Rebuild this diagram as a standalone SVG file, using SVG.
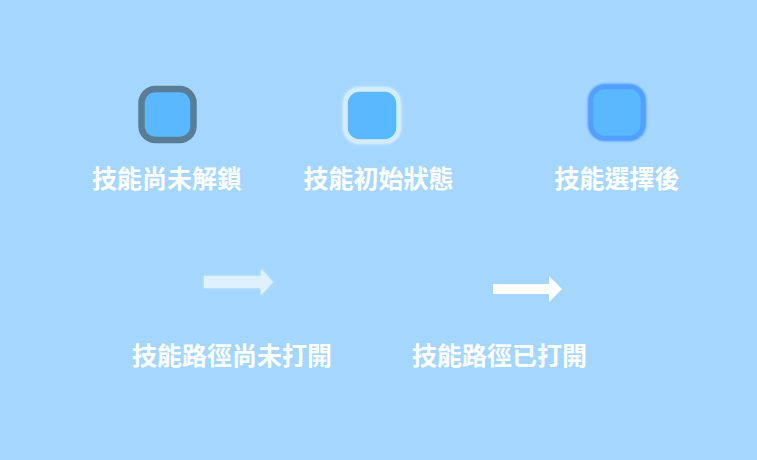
<svg xmlns="http://www.w3.org/2000/svg" width="757" height="460" viewBox="0 0 757 460">
<style>
.lbl{font-family:"Noto Sans CJK TC","Noto Sans CJK SC",sans-serif;font-size:25px;font-weight:bold;fill:#ffffff;text-anchor:middle}
.sq{fill:#5ab9fe}
</style>
<defs>
<filter id="glow" x="-30%" y="-30%" width="160%" height="160%"><feGaussianBlur stdDeviation="1.2"/></filter>
<filter id="soft" x="-20%" y="-50%" width="140%" height="200%"><feGaussianBlur stdDeviation="0.8"/></filter>
</defs>
<rect width="757" height="460" fill="#a5d7fe"/>
<g id="node-locked">
<rect class="sq" x="141.5" y="89" width="52" height="51" rx="14" stroke="#5a7d96" stroke-width="6.5"/>
<text class="lbl" x="167" y="188">技能尚未解鎖</text>
</g>
<g id="node-initial">
<rect x="345.5" y="89.5" width="53" height="52" rx="14" fill="none" stroke="#d8efff" stroke-width="6" filter="url(#glow)" opacity="0.8"/>
<rect class="sq" x="345.5" y="89.5" width="53" height="52" rx="14" stroke="#d3edff" stroke-width="4.5"/>
<text class="lbl" x="378.5" y="188">技能初始狀態</text>
</g>
<g id="node-selected">
<rect x="591" y="87" width="52" height="51" rx="14" fill="none" stroke="#4c9bff" stroke-width="6.5" filter="url(#glow)"/>
<rect class="sq" x="591" y="87" width="52" height="51" rx="14" stroke="#529fff" stroke-width="4.5"/>
<text class="lbl" x="617" y="188">技能選擇後</text>
</g>
<g id="connectors">
<g id="path-closed">
<polygon points="204,276 261,276 261,269 273,282 261,295 261,288 204,288" fill="#e4f3ff" filter="url(#soft)" opacity="0.9"/>
<polygon points="204,276 261,276 261,269 273,282 261,295 261,288 204,288" fill="#dff1ff"/>
<text class="lbl" x="232" y="365">技能路徑尚未打開</text>
</g>
<g id="path-open">
<polygon points="493,284 549,284 549,276 562,289 549,302 549,294 493,294" fill="#ffffff"/>
<text class="lbl" x="499.5" y="365">技能路徑已打開</text>
</g>
</g>
</svg>
